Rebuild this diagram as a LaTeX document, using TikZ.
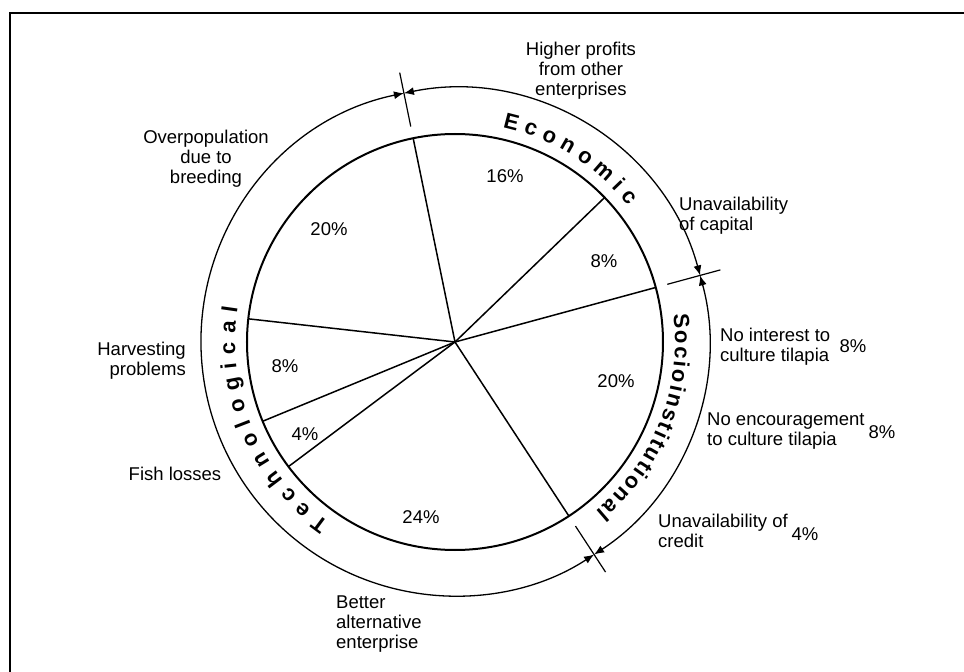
\documentclass[tikz,border=0pt]{standalone}
\usepackage{fontspec}
\setmainfont{Liberation Sans}
\usetikzlibrary{arrows.meta}
\newcommand{\lblfont}{\fontsize{18.5}{20}\selectfont}
\newcommand{\ringfont}{\fontsize{22}{24}\selectfont\bfseries}
\tikzset{
  lbl/.style={font=\lblfont,inner sep=0pt,align=center},
  pct/.style={font=\lblfont,inner sep=0pt},
  wedge/.style={line width=1.5pt},
  ringarc/.style={line width=1.3pt,{Latex[length=10pt,width=8pt]}-{Latex[length=10pt,width=8pt]}},
  ringtick/.style={line width=1.2pt},
  ringchar/.style={font=\ringfont,inner sep=0pt,anchor=base}
}
% letters spread clockwise from #1 to #2 on baseline radius #3
\newcommand{\ringword}[4]{%
  \begingroup\ringfont
  \gdef\rwTot{0}\gdef\rwNum{0}%
  \foreach \ch in {#4}{%
    \pgfmathwidth{"\ch"}\pgfmathsetmacro\rwW{\pgfmathresult}%
    \pgfmathsetmacro\rwT{\rwTot+\rwW}\xdef\rwTot{\rwT}%
    \pgfmathsetmacro\rwK{\rwNum+1}\xdef\rwNum{\rwK}}%
  \pgfmathsetmacro\rwLen{(#1-(#2))*pi/180*#3}%
  \pgfmathsetmacro\rwGap{(\rwLen-\rwTot)/(\rwNum-1)}%
  \gdef\rwPos{0}%
  \foreach \ch in {#4}{%
    \pgfmathwidth{"\ch"}\pgfmathsetmacro\rwW{\pgfmathresult}%
    \pgfmathsetmacro\rwA{#1-(\rwPos+\rwW/2)/#3*180/pi}%
    \node[ringchar,rotate=\rwA-90] at (\rwA:#3) {\ch};
    \pgfmathsetmacro\rwP{\rwPos+\rwW+\rwGap}\xdef\rwPos{\rwP}}%
  \endgroup}

\begin{document}
\begin{tikzpicture}[x=1pt,y=1pt]
  \useasboundingbox (-455,-330) rectangle (509,342);
  % frame
  \draw[line width=2pt] (-445,-330) -- (-445,329) -- (509,329);

  % pie
  \coordinate (c) at (0,0);
  \draw[line width=2pt] (c) circle[radius=208];
  \foreach \a in {101.6,44,15.2,-56.8,216.8,202.4,173.6}
    \draw[wedge] (c) -- (\a:208);

  % ring of groups
  \draw[ringarc] (101.6:254) arc[start angle=101.6,end angle=15.2,radius=254];
  \draw[ringarc] (15.2:254) arc[start angle=15.2,end angle=-56.8,radius=254];
  \draw[ringarc] (101.6:254) arc[start angle=101.6,end angle=303.2,radius=254];
  \foreach \a in {101.6,15.2,-56.8}
    \draw[ringtick] (\a:220) -- (\a:275);
  \ringword{77.5}{38.1}{220}{E,c,o,n,o,m,i,c}
  \ringword{7.3}{-50.2}{220}{S,o,c,i,o,i,n,s,t,i,t,u,t,i,o,n,a,l}
  \ringword{235.1}{171}{220}{T,e,c,h,n,o,l,o,g,i,c,a,l}

  % percentages
  \node[pct] (p16) at (50,166) {16\%};
  \node[pct] (p8cap) at (149,81) {8\%};
  \node[pct] (p20soc) at (161,-39) {20\%};
  \node[pct] (p24) at (-34,-175) {24\%};
  \node[pct] (p4fish) at (-150,-92) {4\%};
  \node[pct] (p8harv) at (-170,-24) {8\%};
  \node[pct] (p20over) at (-126,113) {20\%};

  % causes
  \node[lbl] (higher) at (126,271) {Higher profits\\from other\\enterprises};
  \node[lbl,anchor=west,align=left] (capital) at (224,126) {Unavailability\\of capital};
  \node[lbl,anchor=west,align=left] (interest) at (265,-5) {No interest to\\culture tilapia};
  \node[pct] (p8int) at (398,-4) {8\%};
  \node[lbl,anchor=west,align=left] (encour) at (252,-89.5) {No encouragement\\to culture tilapia};
  \node[pct] (p8enc) at (427,-90) {8\%};
  \node[lbl,anchor=west,align=left] (credit) at (203,-189) {Unavailability of\\credit};
  \node[pct] (p4cred) at (350,-192) {4\%};
  \node[lbl,anchor=west,align=left] (better) at (-119,-282) {Better\\alternative\\enterprise};
  \node[lbl] (fish) at (-280,-132) {Fish losses};
  \node[lbl,anchor=east,align=right] (harvest) at (-269,-19) {Harvesting\\problems};
  \node[lbl] (overpop) at (-249,183) {Overpopulation\\due to\\breeding};
\end{tikzpicture}
\end{document}
